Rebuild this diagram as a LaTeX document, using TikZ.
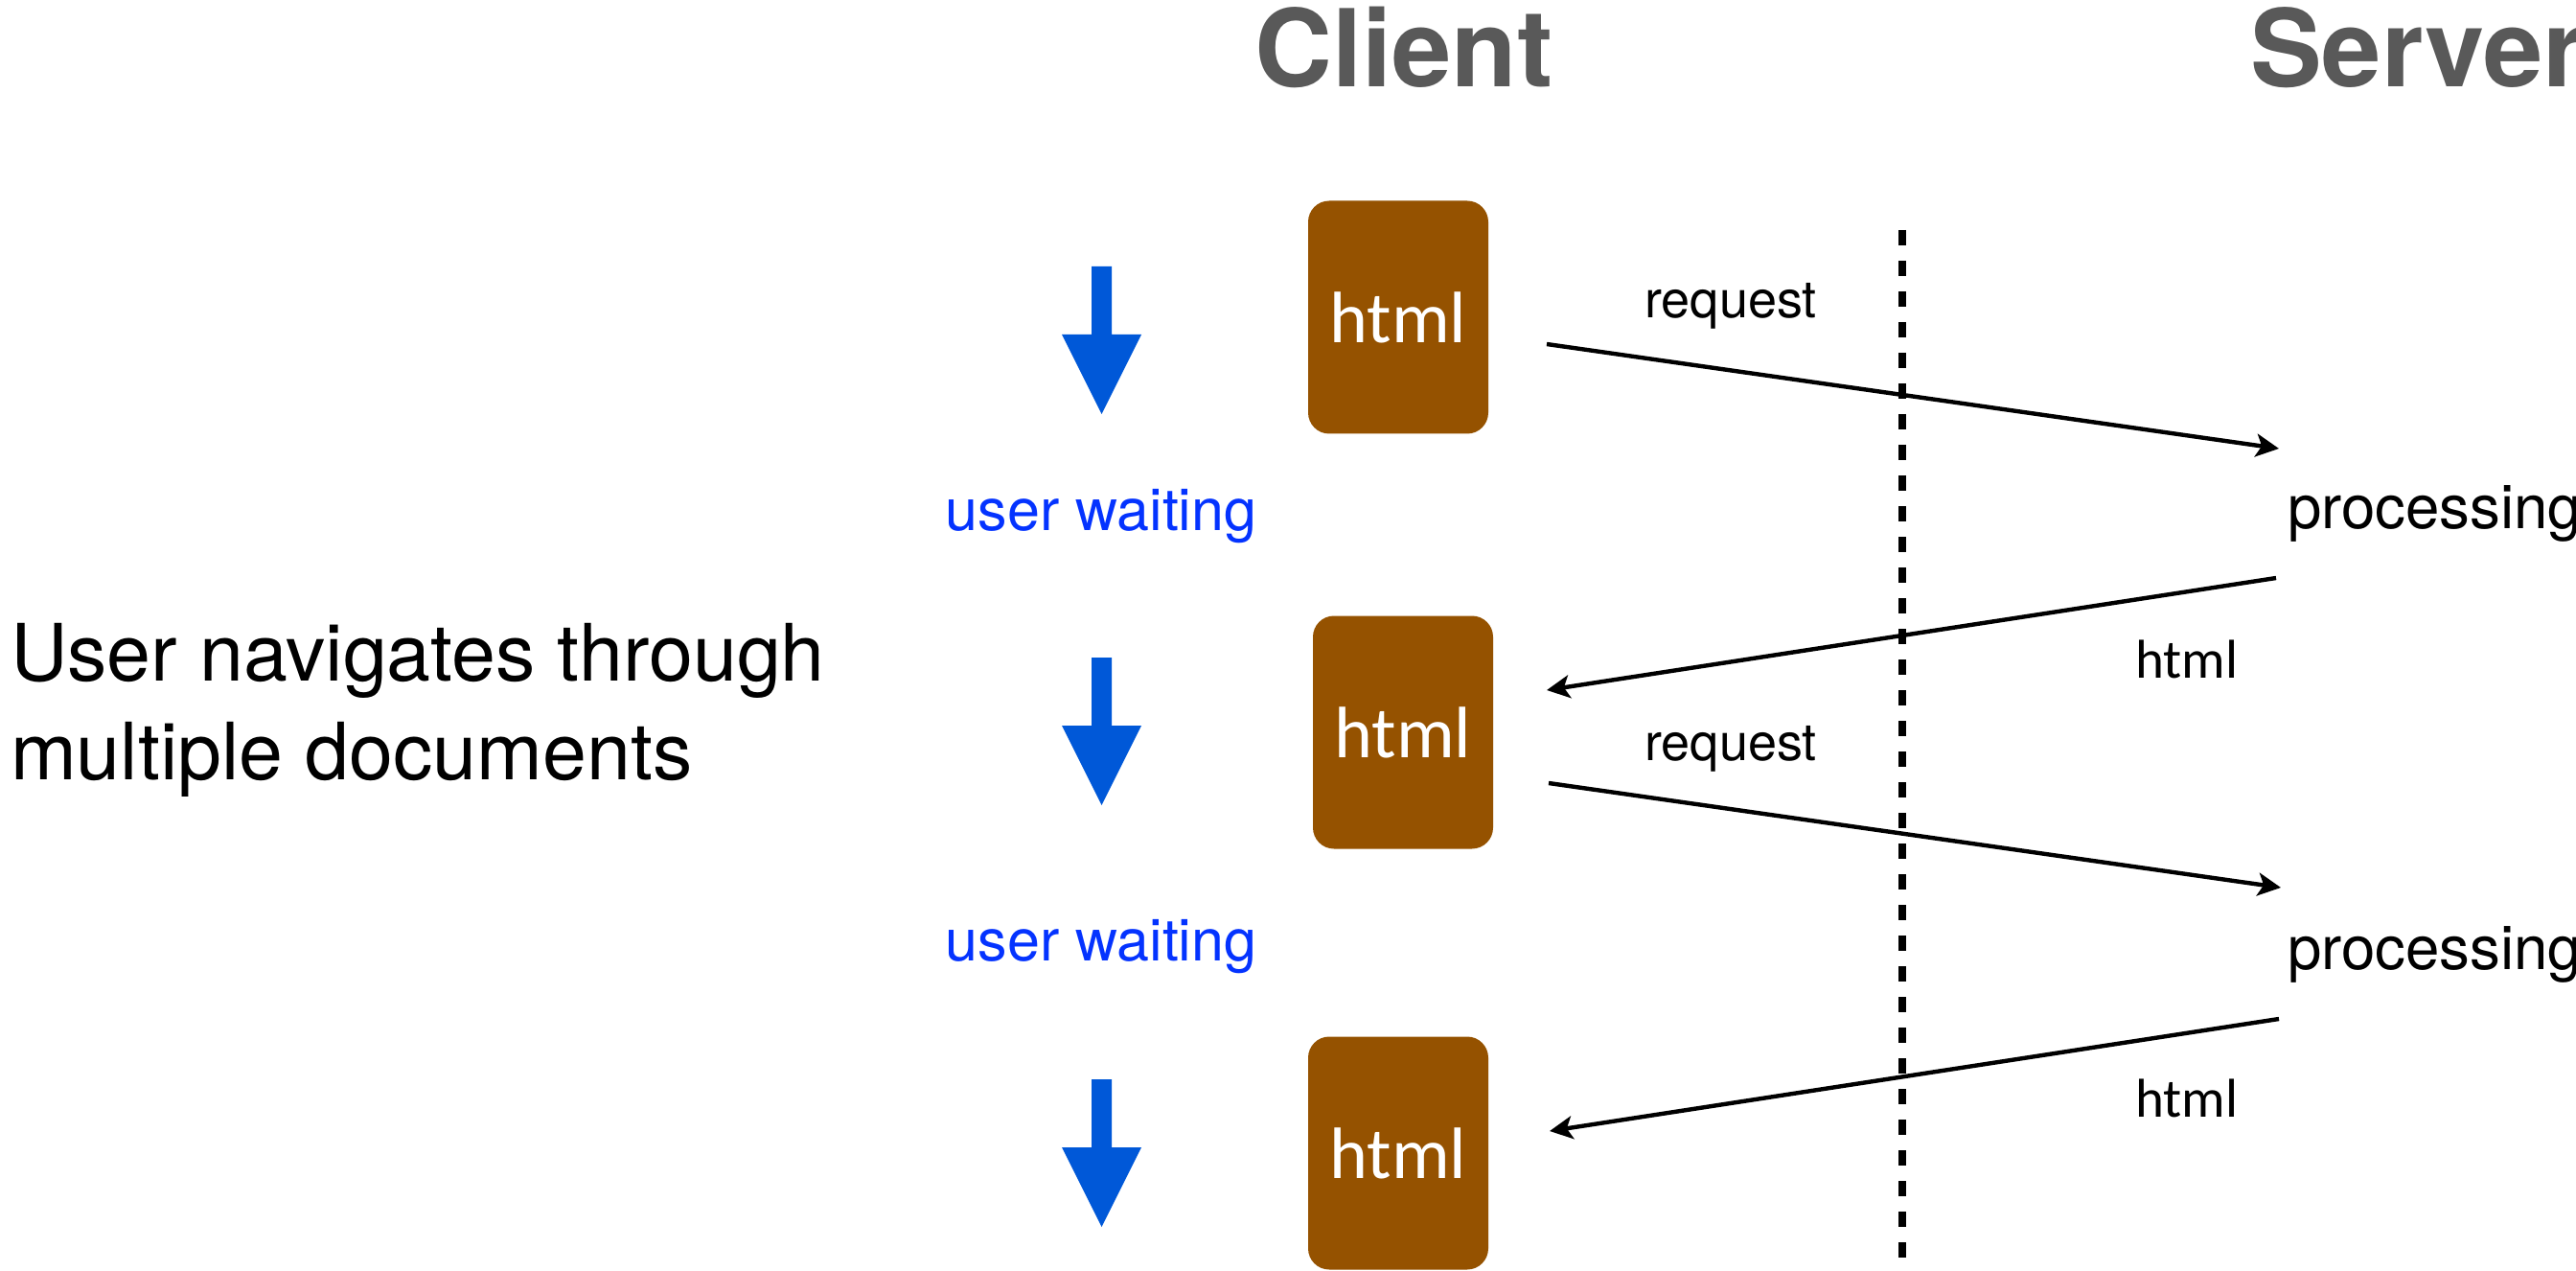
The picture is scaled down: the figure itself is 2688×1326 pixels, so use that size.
\documentclass[tikz,border=0pt]{standalone}
\usepackage{fontspec}
\setmainfont{TeX Gyre Heros}
\newfontfamily\docfont{Carlito}
\usetikzlibrary{arrows.meta}

\definecolor{titlegray}{RGB}{89,89,89}
\definecolor{docbrown}{RGB}{149,82,0}
\definecolor{waitblue}{RGB}{4,51,255}
\definecolor{arrowblue}{RGB}{0,88,216}

\begin{document}
\begin{tikzpicture}[x=0.5pt,y=-0.5pt,
  every node/.style={inner sep=0pt, outer sep=0pt},
  title/.style={font=\bfseries\fontsize{56}{60}\selectfont, text=titlegray},
  doc/.style={fill=docbrown, rounded corners=11pt, minimum width=94pt,
    minimum height=121.5pt, text=white, font=\docfont\fontsize{38}{40}\selectfont},
  lead/.style={font=\fontsize{41.3}{50}\selectfont},
  waitlabel/.style={font=\fontsize{30.5}{34}\selectfont, text=waitblue},
  msg/.style={font=\fontsize{27}{30}\selectfont},
  reply/.style={font=\docfont\fontsize{28.5}{30}\selectfont},
  work/.style={font=\fontsize{31.8}{34}\selectfont},
  flow/.style={line width=2.2pt, -{Stealth[length=12pt, width=12pt, inset=3pt]}},
  border/.style={line width=4pt, dash pattern=on 8pt off 8pt},
  waitarrow/.pic={\fill[arrowblue] (-10.5,0) -- (10.5,0) -- (10.5,71) -- (41.5,71)
    -- (0,154) -- (-41.5,71) -- (-10.5,71) -- cycle;}
]
\useasboundingbox (0,0) rectangle (2688,1326);

% column titles
\node[title, anchor=base] (client) at (1465,91) {Client};
\node[title, anchor=base west] (server) at (2348,91) {Server};

% explanatory text
\node[lead, anchor=base west] (lead1) at (11,710) {User navigates through};
\node[lead, anchor=base west] (lead2) at (11,813) {multiple documents};

% documents on the client
\node[doc] (doc1) at (1459,331) {html};
\node[doc] (doc2) at (1464,764) {html};
\node[doc] (doc3) at (1459,1203) {html};

% waiting arrows
\pic at (1149.5,278) {waitarrow};
\pic at (1149.5,686) {waitarrow};
\pic at (1149.5,1126) {waitarrow};
\node[waitlabel, anchor=base] (wait1) at (1149,553) {user waiting};
\node[waitlabel, anchor=base] (wait2) at (1149,1002) {user waiting};

% server side
\node[work, anchor=base west] (proc1) at (2387,552) {processing};
\node[work, anchor=base west] (proc2) at (2387,1011) {processing};

% client/server border
\coordinate (btop) at (1985,240);
\coordinate (bbot) at (1985,1312);
\draw[border] (btop) -- (bbot);

% message flow
\coordinate (req1a) at (1614,359);
\coordinate (req1b) at (2378,468);
\coordinate (res1a) at (2375,603);
\coordinate (res1b) at (1614,720);
\coordinate (req2a) at (1616,817);
\coordinate (req2b) at (2380,926);
\coordinate (res2a) at (2378,1063);
\coordinate (res2b) at (1617,1180);
\draw[flow] (req1a) -- (req1b);
\draw[flow] (res1a) -- (res1b);
\draw[flow] (req2a) -- (req2b);
\draw[flow] (res2a) -- (res2b);

\node[msg, anchor=base] (reqlab1) at (1806,332) {request};
\node[msg, anchor=base] (reqlab2) at (1806,793) {request};
\node[reply, anchor=base] (reslab1) at (2282,707) {html};
\node[reply, anchor=base] (reslab2) at (2282,1165) {html};
\end{tikzpicture}
\end{document}
